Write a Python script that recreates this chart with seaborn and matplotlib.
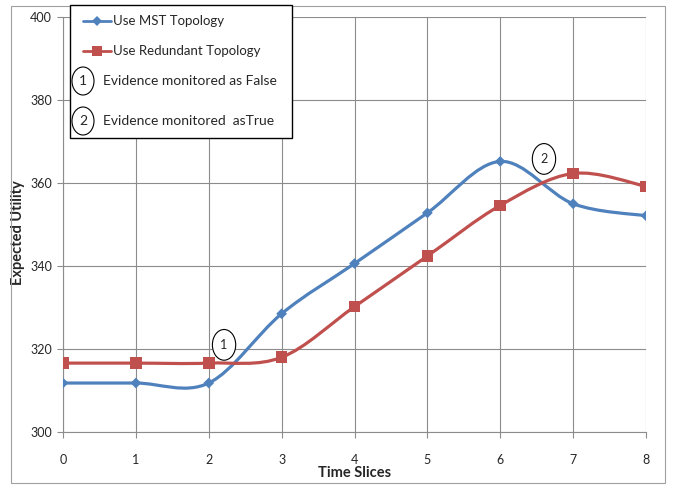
import matplotlib
matplotlib.use("Agg")
from matplotlib import pyplot as plt
from matplotlib.path import Path
from matplotlib.patches import PathPatch, Ellipse, Rectangle
from matplotlib.lines import Line2D
import seaborn as sns
import pandas as pd
import numpy as np

# datos
time_slices = [0, 1, 2, 3, 4, 5, 6, 7, 8]
mst_utility = [311.8, 311.8, 311.8, 328.5, 340.6, 352.8, 365.2, 355.0, 352.1]
redundant_utility = [316.6, 316.6, 316.6, 318.0, 330.2, 342.4, 354.6, 362.3, 359.2]
series_names = ["Use MST Topology", "Use Redundant Topology"]
note_labels = ["Evidence monitored as False", "Evidence monitored  asTrue"]
note_positions = [(2.21, 321.0), (6.6, 365.8)]

BLUE = "#4F81BD"
RED = "#C0504D"
GRID = "#8C8C8C"

W, H = 676, 486

sns.set_theme(style="white")
plt.rcParams["font.family"] = ["Liberation Sans Narrow", "Lato", "DejaVu Sans"]

df = pd.DataFrame({
    "Time Slices": time_slices * 2,
    "Expected Utility": mst_utility + redundant_utility,
    "serie": [series_names[0]] * len(time_slices) + [series_names[1]] * len(time_slices),
})

fig = plt.figure(figsize=(W / 100, H / 100), dpi=100)
ax = fig.add_axes([63 / W, 1 - 432 / H, (646 - 63) / W, (432 - 17) / H])


def px(x, y):
    # pixel (origen arriba-izquierda) -> fraccion de figura
    return x / W, 1 - y / H


def smooth_path(xs, ys, t=1 / 6):
    # curva suavizada tipo Excel (Bezier cubica)
    pts = np.column_stack([xs, ys]).astype(float)
    n = len(pts)
    verts = [pts[0]]
    codes = [Path.MOVETO]
    for i in range(n - 1):
        p_prev = pts[i - 1] if i > 0 else pts[i]
        p_next2 = pts[i + 2] if i + 2 < n else pts[i + 1]
        c1 = pts[i] + (pts[i + 1] - p_prev) * t
        c2 = pts[i + 1] - (p_next2 - pts[i]) * t
        verts += [c1, c2, pts[i + 1]]
        codes += [Path.CURVE4] * 3
    return Path(verts, codes)


for ys, color in [(mst_utility, BLUE), (redundant_utility, RED)]:
    ax.add_patch(PathPatch(smooth_path(time_slices, ys), fill=False,
                           edgecolor=color, lw=2.3, zorder=3, capstyle="round"))

sns.scatterplot(data=df[df["serie"] == series_names[0]], x="Time Slices",
                y="Expected Utility", marker="D", color=BLUE, s=30,
                edgecolor="none", legend=False, ax=ax, zorder=4)
sns.scatterplot(data=df[df["serie"] == series_names[1]], x="Time Slices",
                y="Expected Utility", marker="s", color=RED, s=70,
                edgecolor="none", legend=False, ax=ax, zorder=4)

ax.set_xlim(0, 8)
ax.set_ylim(300, 400)
ax.set_xticks(time_slices)
ax.set_yticks(np.arange(300, 401, 20))
ax.grid(True, color=GRID, lw=0.8)
for s in ["top", "right"]:
    ax.spines[s].set_visible(False)
for s in ["left", "bottom"]:
    ax.spines[s].set_color(GRID)
    ax.spines[s].set_linewidth(0.8)
ax.tick_params(axis="both", which="major", length=4, width=0.8, color=GRID,
               labelsize=9, direction="out", left=True, bottom=True)
ax.tick_params(axis="x", pad=12)
ax.tick_params(axis="y", pad=4)

ax.set_xlabel("Time Slices", fontsize=10.5, fontweight="bold", labelpad=0)
ax.set_ylabel("Expected Utility", fontsize=10.5, fontweight="bold")
ax.yaxis.set_label_coords(-0.066, 0.48)

# circulos numerados sobre la grafica
for k, (xn, yn) in enumerate(note_positions):
    ax.add_patch(Ellipse((xn, yn), 0.32, 7.4, facecolor="white", edgecolor="black",
                         lw=0.8, zorder=5))
    ax.text(xn, yn, str(k + 1), ha="center", va="center", fontsize=9, zorder=6)

# borde exterior
fig.add_artist(Rectangle(px(11, 483), (665 - 11) / W, (483 - 6) / H,
                         transform=fig.transFigure, fill=False,
                         edgecolor="#A0A0A0", lw=0.8))

# leyenda dibujada a mano
fig.add_artist(Rectangle(px(70, 138), (292 - 70) / W, (138 - 5) / H,
                         transform=fig.transFigure, facecolor="white",
                         edgecolor="black", lw=1.0, zorder=10))
for (yy, color, mk, ms), name in zip([(21, BLUE, "D", 5), (51, RED, "s", 7)], series_names):
    x0, y0 = px(83, yy)
    x1, _ = px(111, yy)
    fig.add_artist(Line2D([x0, x1], [y0, y0], transform=fig.transFigure,
                          color=color, lw=2.0, zorder=11))
    fig.add_artist(Line2D([(x0 + x1) / 2], [y0], transform=fig.transFigure,
                          color=color, marker=mk, markersize=ms, mew=0, zorder=12))
    fig.text(*px(113, yy), name, fontsize=9.5, va="center", ha="left", zorder=12)

for k, (yy, label) in enumerate(zip([81, 121], note_labels)):
    cx, cy = px(83, yy)
    fig.add_artist(Ellipse((cx, cy), 22 / W, 28 / H, transform=fig.transFigure,
                           facecolor="white", edgecolor="black", lw=0.8, zorder=11))
    fig.text(cx, cy, str(k + 1), fontsize=10, ha="center", va="center", zorder=12)
    fig.text(*px(103, yy), label, fontsize=10, ha="left", va="center", zorder=12)

fig.savefig("out.png", dpi=100)
